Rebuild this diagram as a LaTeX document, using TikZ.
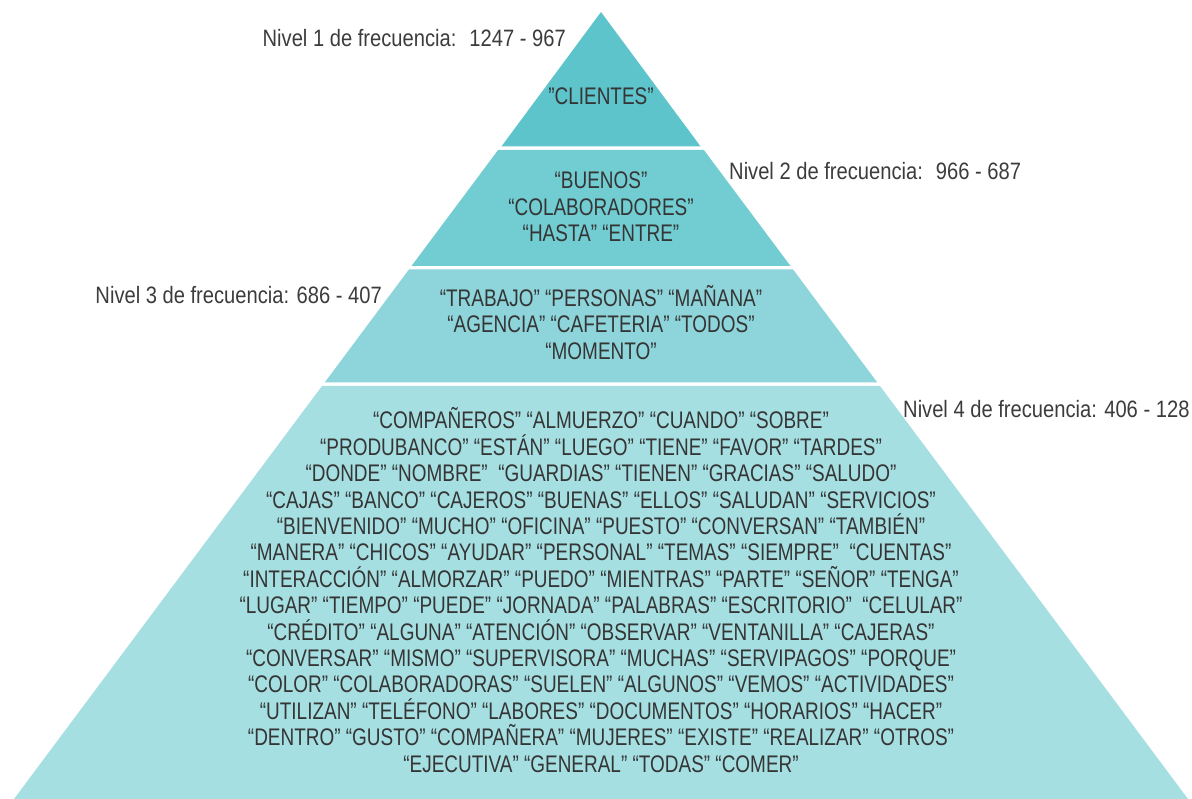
\documentclass[tikz,border=0pt]{standalone}
\usepackage{fontspec}
\setmainfont{Liberation Sans}
\newfontfamily\wordfont[FakeStretch=0.79]{Liberation Sans}
\newfontfamily\labelfont[FakeStretch=0.85]{Liberation Sans}
\definecolor{lvone}{HTML}{5DC4CB}
\definecolor{lvtwo}{HTML}{72CDD2}
\definecolor{lvthree}{HTML}{8ED5DB}
\definecolor{lvfour}{HTML}{A6DFE2}
\definecolor{wordgray}{HTML}{353535}
\definecolor{labelgray}{HTML}{3C3C3C}
\tikzset{
  layer/.style={draw=none},
  words/.style={align=center, inner sep=0pt, text=wordgray,
    font=\wordfont\fontsize{24}{26.4}\selectfont},
  lvlabel/.style={inner sep=0pt, text=labelgray,
    font=\labelfont\fontsize{23.7}{26}\selectfont}
}
\begin{document}
\begin{tikzpicture}[x=1pt,y=-1pt]
\useasboundingbox (0,0) rectangle (1192,799);
% layers
\fill[layer, lvone]   (601,12) -- (700.6,146.5) -- (501.4,146.5) -- cycle;
\fill[layer, lvtwo]   (498.1,150) -- (703.9,150) -- (790.5,266) -- (411.5,266) -- cycle;
\fill[layer, lvthree] (408.9,269.5) -- (793.1,269.5) -- (877.3,382.5) -- (324.7,382.5) -- cycle;
\fill[layer, lvfour]  (322,386) -- (880,386) -- (1188,799) -- (14,799) -- cycle;
% words
\node[words] (w1) at (601,96.5) {”CLIENTES”};
\node[words] (w2) at (601,207) {“BUENOS”\\“COLABORADORES”\\“HASTA” “ENTRE”};
\node[words] (w3) at (601,322.5) {“TRABAJO” “PERSONAS” “MAÑANA”\\“AGENCIA” “CAFETERIA” “TODOS”\\“MOMENTO”};
\node[words] (w4) at (601,590) {“COMPAÑEROS” “ALMUERZO” “CUANDO” “SOBRE”\\
“PRODUBANCO” “ESTÁN” “LUEGO” “TIENE” “FAVOR” “TARDES”\\
“DONDE” “NOMBRE” \ “GUARDIAS” “TIENEN” “GRACIAS” “SALUDO”\\
“CAJAS” “BANCO” “CAJEROS” “BUENAS” “ELLOS” “SALUDAN” “SERVICIOS”\\
“BIENVENIDO” “MUCHO” “OFICINA” “PUESTO” “CONVERSAN” “TAMBIÉN”\\
“MANERA” “CHICOS” “AYUDAR” “PERSONAL” “TEMAS” “SIEMPRE” \ “CUENTAS”\\
“INTERACCIÓN” “ALMORZAR” “PUEDO” “MIENTRAS” “PARTE” “SEÑOR” “TENGA”\\
“LUGAR” “TIEMPO” “PUEDE” “JORNADA” “PALABRAS” “ESCRITORIO” \ “CELULAR”\\
“CRÉDITO” “ALGUNA” “ATENCIÓN” “OBSERVAR” “VENTANILLA” “CAJERAS”\\
“CONVERSAR” “MISMO” “SUPERVISORA” “MUCHAS” “SERVIPAGOS” “PORQUE”\\
“COLOR” “COLABORADORAS” “SUELEN” “ALGUNOS” “VEMOS” “ACTIVIDADES”\\
“UTILIZAN” “TELÉFONO” “LABORES” “DOCUMENTOS” “HORARIOS” “HACER”\\
“DENTRO” “GUSTO” “COMPAÑERA” “MUJERES” “EXISTE” “REALIZAR” “OTROS”\\
“EJECUTIVA” “GENERAL” “TODAS” “COMER”};
% level labels
\node[lvlabel, anchor=east] (l1) at (566,38.5) {Nivel 1 de frecuencia: \ 1247 - 967};
\node[lvlabel, anchor=west] (l2) at (729,171) {Nivel 2 de frecuencia: \ 966 - 687};
\node[lvlabel, anchor=east] (l3) at (382,295.5) {Nivel 3 de frecuencia: 686 - 407};
\node[lvlabel, anchor=west] (l4) at (903,409.5) {Nivel 4 de frecuencia: 406 - 128};
\end{tikzpicture}
\end{document}
